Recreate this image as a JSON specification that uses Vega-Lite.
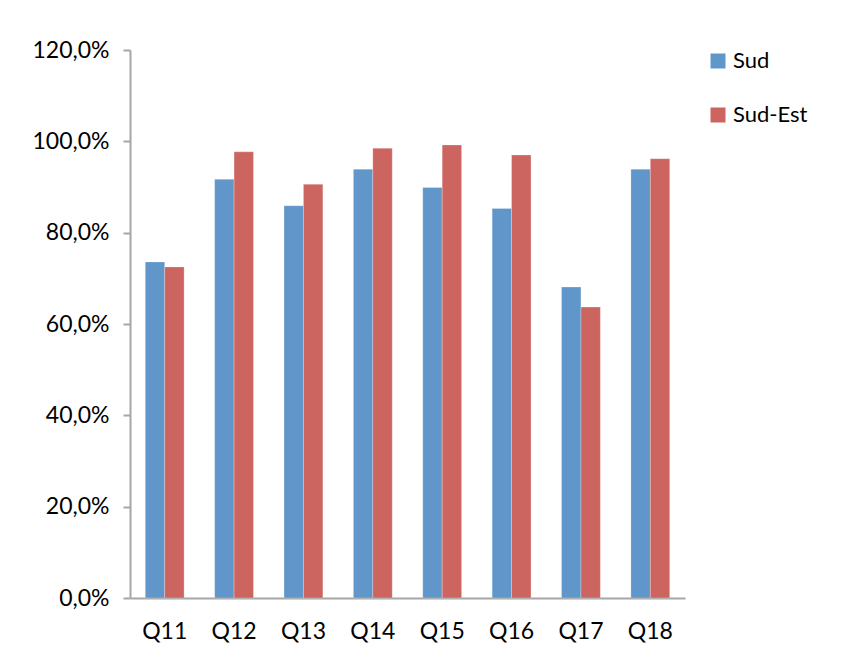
{
  "$schema": "https://vega.github.io/schema/vega-lite/v6.json",
  "width": 555,
  "height": 548,
  "autosize": {"type": "none"},
  "padding": {"left": 130, "top": 50, "right": 173, "bottom": 58},
  "background": "white",
  "config": {
    "view": {"stroke": null},
    "font": "Lato"
  },
  "data": {
    "values": [
      {"q": "Q11", "region": "Sud", "v": 0.736},
      {"q": "Q11", "region": "Sud-Est", "v": 0.725},
      {"q": "Q12", "region": "Sud", "v": 0.917},
      {"q": "Q12", "region": "Sud-Est", "v": 0.977},
      {"q": "Q13", "region": "Sud", "v": 0.859},
      {"q": "Q13", "region": "Sud-Est", "v": 0.906},
      {"q": "Q14", "region": "Sud", "v": 0.939},
      {"q": "Q14", "region": "Sud-Est", "v": 0.985},
      {"q": "Q15", "region": "Sud", "v": 0.899},
      {"q": "Q15", "region": "Sud-Est", "v": 0.992},
      {"q": "Q16", "region": "Sud", "v": 0.853},
      {"q": "Q16", "region": "Sud-Est", "v": 0.970},
      {"q": "Q17", "region": "Sud", "v": 0.681},
      {"q": "Q17", "region": "Sud-Est", "v": 0.637},
      {"q": "Q18", "region": "Sud", "v": 0.939},
      {"q": "Q18", "region": "Sud-Est", "v": 0.962}
    ]
  },
  "mark": {"type": "bar", "stroke": "white", "strokeOpacity": 0.5, "strokeWidth": 0.5},
  "encoding": {
    "x": {
      "field": "q",
      "type": "nominal",
      "scale": {"paddingInner": 0.44, "paddingOuter": 0.22},
      "axis": {
        "title": null,
        "labelAngle": 0,
        "labelFontSize": 23,
        "labelColor": "#000000",
        "labelPadding": 22,
        "ticks": false,
        "domainColor": "#a6a6a6",
        "domainWidth": 2
      }
    },
    "xOffset": {"field": "region", "type": "nominal", "scale": {"paddingInner": 0}},
    "y": {
      "field": "v",
      "type": "quantitative",
      "scale": {"domain": [0, 1.2], "nice": false},
      "axis": {
        "title": null,
        "values": [0, 0.2, 0.4, 0.6, 0.8, 1.0, 1.2],
        "labelExpr": "replace(format(datum.value, '.1%'), '.', ',')",
        "labelFontSize": 23,
        "labelColor": "#000000",
        "labelPadding": 14,
        "grid": false,
        "tickColor": "#a6a6a6",
        "tickSize": 7,
        "tickWidth": 2,
        "domainColor": "#a6a6a6",
        "domainWidth": 2
      }
    },
    "color": {
      "field": "region",
      "type": "nominal",
      "scale": {"domain": ["Sud", "Sud-Est"], "range": ["#6096CA", "#CC645F"]},
      "legend": {
        "title": null,
        "orient": "right",
        "offset": 22,
        "symbolType": "square",
        "symbolSize": 225,
        "symbolStrokeWidth": 0,
        "labelFontSize": 22,
        "labelColor": "#000000",
        "rowPadding": 32,
        "labelOffset": 4,
        "padding": 0
      }
    }
  }
}
